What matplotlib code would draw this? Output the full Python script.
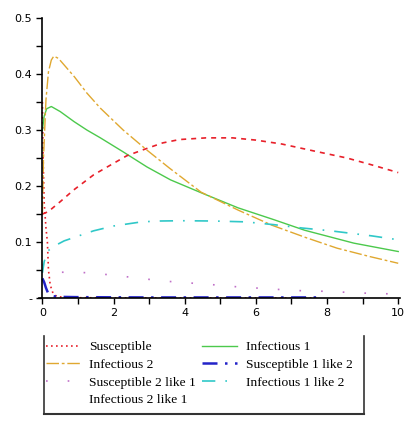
import matplotlib.pyplot as plt
import numpy as np
from matplotlib.lines import Line2D

# values (t, fraction)
t_s = [0, 0.02, 0.05, 0.1, 0.14, 0.17, 0.22, 0.3, 0.4, 0.6, 1.0, 2.0, 4.0, 6.0, 7.7]
s = [0.35, 0.25, 0.17, 0.125, 0.1, 0.05, 0.023, 0.008, 0.003, 0.001, 0.0005, 0.0003, 0.0002, 0.0001, 0.0001]

t_i1 = [0, 0.05, 0.12, 0.25, 0.5, 0.89, 1.25, 1.63, 2.27, 2.94, 3.6, 4.46, 5.5, 6.5, 7.37, 8.75, 10]
i1 = [0.30, 0.325, 0.338, 0.342, 0.333, 0.315, 0.300, 0.286, 0.261, 0.234, 0.211, 0.188, 0.161, 0.14, 0.121, 0.098, 0.083]

t_i2 = [0, 0.03, 0.1, 0.17, 0.25, 0.32, 0.45, 0.9, 1.25, 1.63, 2.27, 2.94, 3.57, 4.46, 5.5, 6.45, 7.4, 8.28, 9.2, 10]
i2 = [0.15, 0.25, 0.354, 0.404, 0.425, 0.432, 0.428, 0.395, 0.366, 0.339, 0.300, 0.264, 0.232, 0.189, 0.157, 0.130, 0.108, 0.089, 0.074, 0.062]

t_s12 = [0, 0.05, 0.1, 0.17, 0.25, 0.33, 0.5, 1, 2, 3, 4, 5, 6, 7, 7.7]
s12 = [0.035, 0.028, 0.018, 0.007, 0.004, 0.003, 0.002, 0.0015, 0.0012, 0.001, 0.001, 0.001, 0.001, 0.001, 0.001]

t_s21 = [0, 0.2, 0.5, 1.0, 1.5, 2.5, 3.43, 3.96, 4.46, 4.96, 5.46, 5.96, 6.95, 7.45, 7.95, 8.9, 9.4, 10]
s21 = [0.06, 0.05, 0.046, 0.046, 0.044, 0.037, 0.030, 0.028, 0.025, 0.023, 0.020, 0.018, 0.014, 0.0125, 0.012, 0.009, 0.008, 0.007]

t_i12 = [0, 0.05, 0.15, 0.34, 0.61, 1.16, 1.44, 2.0, 2.79, 3.3, 3.9, 4.8, 5.7, 6.5, 7.3, 8.1, 9.25, 10]
i12 = [0.045, 0.065, 0.084, 0.093, 0.102, 0.114, 0.120, 0.1286, 0.136, 0.1375, 0.138, 0.1375, 0.136, 0.131, 0.125, 0.120, 0.111, 0.104]

t_i21 = [0, 0.16, 0.5, 0.88, 1.44, 1.82, 2.37, 2.93, 3.38, 3.85, 4.6, 5.35, 6.0, 6.73, 7.6, 8.56, 9.3, 10]
i21 = [0.15, 0.154, 0.172, 0.193, 0.220, 0.234, 0.254, 0.267, 0.277, 0.283, 0.286, 0.286, 0.282, 0.275, 0.263, 0.25, 0.237, 0.224]

fig = plt.figure(figsize=(4.09, 4.30), dpi=100)
ax = fig.add_axes([0.095, 0.307, 0.883, 0.651])

l_s, = ax.plot(t_s, s, color='#e8202a', lw=1.2, ls=(0, (1, 2)), label='Susceptible')
l_i1, = ax.plot(t_i1, i1, color='#4cc94c', lw=1.0, ls='-', label='Infectious 1')
l_i2, = ax.plot(t_i2, i2, color='#e0a830', lw=1.0, ls=(0, (9, 2, 2, 2)), label='Infectious 2')
l_s12, = ax.plot(t_s12, s12, color='#2323c8', lw=1.8, ls=(0, (6, 3, 1, 3)), label='Susceptible 1 like 2')
l_s21, = ax.plot(t_s21, s21, color='#c070c8', lw=1.2, ls=(0, (1, 12)), label='Susceptible 2 like 1')
l_i12, = ax.plot(t_i12, i12, color='#30c8c8', lw=1.2, ls=(0, (8, 6, 1, 6)), label='Infectious 1 like 2')
l_i21, = ax.plot(t_i21, i21, color='#e8202a', lw=1.2, ls=(0, (3, 3)), label='Infectious 2 like 1')

ax.set_xlim(-0.1, 10.05)
ax.set_ylim(0, 0.5)
for side in ['top', 'right']:
    ax.spines[side].set_visible(False)
ax.spines['left'].set_position(('data', 0))
ax.spines['left'].set_linewidth(1.2)
ax.spines['bottom'].set_linewidth(1.2)

ax.set_xticks([0, 2, 4, 6, 8, 10])
ax.set_xticklabels(['0', '2', '4', '6', '8', '10'])
ax.set_xticks([1, 3, 5, 7, 9], minor=True)
ax.set_yticks([0, 0.1, 0.2, 0.3, 0.4, 0.5])
ax.set_yticklabels(['-', '0.1', '0.2', '0.3', '0.4', '0.5'])
ax.set_yticks([0.05, 0.15, 0.25, 0.35, 0.45], minor=True)
ax.tick_params(which='both', direction='out', length=4, width=1.0, labelsize=8)

handles = [l_s, l_i2, l_s21, l_i21, l_i1, l_s12, l_i12]
labels = [h.get_label() for h in handles]
leg = fig.legend(handles, labels, ncol=2, loc='upper left', bbox_to_anchor=(0.112, 0.207),
                 frameon=False, handlelength=2.6, handletextpad=0.6,
                 columnspacing=0.5, labelspacing=0.38, borderaxespad=0, borderpad=0,
                 prop={'family': 'Liberation Serif', 'size': 9.7})
leg.legend_handles[3].set_visible(False)

# legend border: left, right and bottom only
fig.add_artist(Line2D([0.108, 0.108], [0.037, 0.218], color='#333333', lw=1.2))
fig.add_artist(Line2D([0.890, 0.890], [0.037, 0.218], color='#333333', lw=1.2))
fig.add_artist(Line2D([0.108, 0.890], [0.037, 0.037], color='#333333', lw=1.5))

fig.savefig('out.png', dpi=100)
